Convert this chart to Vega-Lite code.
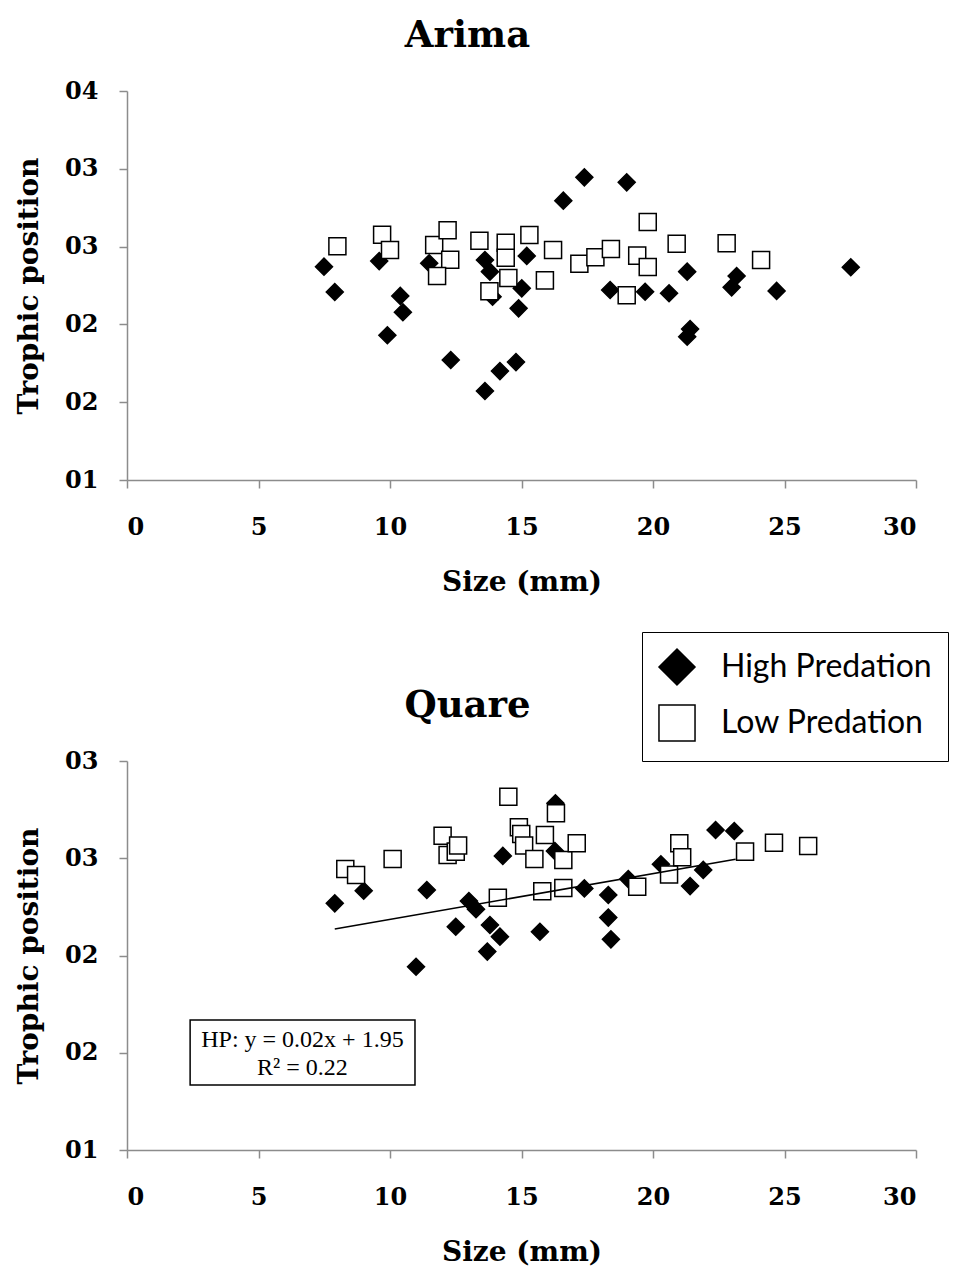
{
  "$schema": "https://vega.github.io/schema/vega-lite/v6.json",
  "background": "white",
  "padding": {"left": 15, "top": 17, "right": 0, "bottom": 10},
  "autosize": {"type": "pad"},
  "bounds": "flush",
  "spacing": 281,
  "config": {
    "view": {"stroke": null},
    "font": "DejaVu Serif",
    "axis": {
      "grid": false,
      "domainColor": "#8c8c8c",
      "domainWidth": 1.5,
      "tickColor": "#8c8c8c",
      "tickWidth": 1.5,
      "tickSize": 8,
      "labelFont": "DejaVu Serif",
      "labelFontWeight": "bold",
      "labelFontSize": 24,
      "labelColor": "black",
      "titleFont": "DejaVu Serif",
      "titleFontWeight": "bold",
      "titleFontSize": 28,
      "titleColor": "black"
    },
    "axisX": {"labelPadding": 27, "titlePadding": 29},
    "axisY": {"labelPadding": 21, "titlePadding": 21},
    "title": {"font": "DejaVu Serif", "fontWeight": "bold", "fontSize": 37, "color": "black", "offset": 24, "dx": -54},
    "point": {"size": 290, "filled": true, "stroke": "black", "strokeWidth": 1.5, "opacity": 1}
  },
  "datasets": {
    "arima": [
      {"size": 7.49, "tp": 2.871, "group": "High Predation"},
      {"size": 7.90, "tp": 2.708, "group": "High Predation"},
      {"size": 9.59, "tp": 2.907, "group": "High Predation"},
      {"size": 10.39, "tp": 2.683, "group": "High Predation"},
      {"size": 10.49, "tp": 2.578, "group": "High Predation"},
      {"size": 9.90, "tp": 2.430, "group": "High Predation"},
      {"size": 11.49, "tp": 2.893, "group": "High Predation"},
      {"size": 12.31, "tp": 2.271, "group": "High Predation"},
      {"size": 13.61, "tp": 2.914, "group": "High Predation"},
      {"size": 13.80, "tp": 2.839, "group": "High Predation"},
      {"size": 13.90, "tp": 2.678, "group": "High Predation"},
      {"size": 13.61, "tp": 2.072, "group": "High Predation"},
      {"size": 14.18, "tp": 2.200, "group": "High Predation"},
      {"size": 14.79, "tp": 2.258, "group": "High Predation"},
      {"size": 15.01, "tp": 2.732, "group": "High Predation"},
      {"size": 14.89, "tp": 2.603, "group": "High Predation"},
      {"size": 15.20, "tp": 2.940, "group": "High Predation"},
      {"size": 16.59, "tp": 3.295, "group": "High Predation"},
      {"size": 17.39, "tp": 3.445, "group": "High Predation"},
      {"size": 19.00, "tp": 3.413, "group": "High Predation"},
      {"size": 18.37, "tp": 2.721, "group": "High Predation"},
      {"size": 19.70, "tp": 2.710, "group": "High Predation"},
      {"size": 20.61, "tp": 2.700, "group": "High Predation"},
      {"size": 21.30, "tp": 2.839, "group": "High Predation"},
      {"size": 21.41, "tp": 2.470, "group": "High Predation"},
      {"size": 21.30, "tp": 2.421, "group": "High Predation"},
      {"size": 23.18, "tp": 2.811, "group": "High Predation"},
      {"size": 22.99, "tp": 2.738, "group": "High Predation"},
      {"size": 24.70, "tp": 2.715, "group": "High Predation"},
      {"size": 27.52, "tp": 2.867, "group": "High Predation"},
      {"size": 8.00, "tp": 3.002, "group": "Low Predation"},
      {"size": 9.70, "tp": 3.076, "group": "Low Predation"},
      {"size": 10.00, "tp": 2.978, "group": "Low Predation"},
      {"size": 11.68, "tp": 3.010, "group": "Low Predation"},
      {"size": 12.19, "tp": 3.105, "group": "Low Predation"},
      {"size": 12.29, "tp": 2.916, "group": "Low Predation"},
      {"size": 11.79, "tp": 2.811, "group": "Low Predation"},
      {"size": 13.40, "tp": 3.038, "group": "Low Predation"},
      {"size": 14.40, "tp": 3.025, "group": "Low Predation"},
      {"size": 14.40, "tp": 2.929, "group": "Low Predation"},
      {"size": 15.30, "tp": 3.075, "group": "Low Predation"},
      {"size": 14.50, "tp": 2.798, "group": "Low Predation"},
      {"size": 13.78, "tp": 2.713, "group": "Low Predation"},
      {"size": 16.20, "tp": 2.978, "group": "Low Predation"},
      {"size": 15.89, "tp": 2.783, "group": "Low Predation"},
      {"size": 17.20, "tp": 2.890, "group": "Low Predation"},
      {"size": 17.81, "tp": 2.931, "group": "Low Predation"},
      {"size": 18.40, "tp": 2.985, "group": "Low Predation"},
      {"size": 19.40, "tp": 2.942, "group": "Low Predation"},
      {"size": 19.80, "tp": 2.869, "group": "Low Predation"},
      {"size": 19.80, "tp": 3.158, "group": "Low Predation"},
      {"size": 19.00, "tp": 2.687, "group": "Low Predation"},
      {"size": 20.90, "tp": 3.019, "group": "Low Predation"},
      {"size": 22.80, "tp": 3.021, "group": "Low Predation"},
      {"size": 24.11, "tp": 2.914, "group": "Low Predation"}
    ],
    "quare": [
      {"size": 7.90, "tp": 2.768, "group": "High Predation"},
      {"size": 9.00, "tp": 2.833, "group": "High Predation"},
      {"size": 11.40, "tp": 2.837, "group": "High Predation"},
      {"size": 10.99, "tp": 2.442, "group": "High Predation"},
      {"size": 13.00, "tp": 2.780, "group": "High Predation"},
      {"size": 13.27, "tp": 2.738, "group": "High Predation"},
      {"size": 12.50, "tp": 2.648, "group": "High Predation"},
      {"size": 13.80, "tp": 2.657, "group": "High Predation"},
      {"size": 14.18, "tp": 2.597, "group": "High Predation"},
      {"size": 13.70, "tp": 2.520, "group": "High Predation"},
      {"size": 14.29, "tp": 3.012, "group": "High Predation"},
      {"size": 15.70, "tp": 2.622, "group": "High Predation"},
      {"size": 16.27, "tp": 3.037, "group": "High Predation"},
      {"size": 16.29, "tp": 3.283, "group": "High Predation"},
      {"size": 17.39, "tp": 2.845, "group": "High Predation"},
      {"size": 18.30, "tp": 2.811, "group": "High Predation"},
      {"size": 18.30, "tp": 2.695, "group": "High Predation"},
      {"size": 18.40, "tp": 2.583, "group": "High Predation"},
      {"size": 19.06, "tp": 2.893, "group": "High Predation"},
      {"size": 20.30, "tp": 2.969, "group": "High Predation"},
      {"size": 21.41, "tp": 2.857, "group": "High Predation"},
      {"size": 21.91, "tp": 2.940, "group": "High Predation"},
      {"size": 22.38, "tp": 3.145, "group": "High Predation"},
      {"size": 23.09, "tp": 3.140, "group": "High Predation"},
      {"size": 8.30, "tp": 2.945, "group": "Low Predation"},
      {"size": 8.71, "tp": 2.914, "group": "Low Predation"},
      {"size": 10.10, "tp": 2.996, "group": "Low Predation"},
      {"size": 12.00, "tp": 3.116, "group": "Low Predation"},
      {"size": 12.19, "tp": 3.017, "group": "Low Predation"},
      {"size": 12.50, "tp": 3.034, "group": "Low Predation"},
      {"size": 12.59, "tp": 3.065, "group": "Low Predation"},
      {"size": 14.50, "tp": 3.316, "group": "Low Predation"},
      {"size": 14.90, "tp": 3.159, "group": "Low Predation"},
      {"size": 14.99, "tp": 3.125, "group": "Low Predation"},
      {"size": 15.10, "tp": 3.065, "group": "Low Predation"},
      {"size": 15.49, "tp": 2.996, "group": "Low Predation"},
      {"size": 15.89, "tp": 3.120, "group": "Low Predation"},
      {"size": 16.31, "tp": 3.231, "group": "Low Predation"},
      {"size": 16.59, "tp": 2.991, "group": "Low Predation"},
      {"size": 17.10, "tp": 3.077, "group": "Low Predation"},
      {"size": 14.10, "tp": 2.797, "group": "Low Predation"},
      {"size": 15.79, "tp": 2.830, "group": "Low Predation"},
      {"size": 16.59, "tp": 2.847, "group": "Low Predation"},
      {"size": 19.40, "tp": 2.854, "group": "Low Predation"},
      {"size": 20.61, "tp": 2.917, "group": "Low Predation"},
      {"size": 21.00, "tp": 3.077, "group": "Low Predation"},
      {"size": 21.11, "tp": 3.005, "group": "Low Predation"},
      {"size": 23.50, "tp": 3.034, "group": "Low Predation"},
      {"size": 24.60, "tp": 3.080, "group": "Low Predation"},
      {"size": 25.90, "tp": 3.063, "group": "Low Predation"}
    ],
    "fit": [
      {"size": 7.90, "tp": 2.636},
      {"size": 23.14, "tp": 2.995}
    ],
    "note": [
      {"x1": 2.4, "x2": 10.95, "y1": 1.834, "y2": 2.168, "xm": 6.67, "ym": 2.066, "label": "HP: y = 0.02x + 1.95\nR² = 0.22"}
    ]
  },
  "resolve": {
    "scale": {"x": "independent", "y": "independent", "shape": "independent", "fill": "independent", "stroke": "independent"},
    "legend": {"shape": "independent", "fill": "independent", "stroke": "independent"}
  },
  "vconcat": [
    {
      "title": {"text": "Arima"},
      "width": 789,
      "height": 389,
      "data": {"name": "arima"},
      "mark": {"type": "point"},
      "encoding": {
        "x": {"field": "size", "type": "quantitative", "scale": {"domain": [0, 30], "nice": false, "zero": false},
              "axis": {"values": [0, 5, 10, 15, 20, 25, 30], "title": "Size (mm)"}},
        "y": {"field": "tp", "type": "quantitative", "scale": {"domain": [1.5, 4], "nice": false, "zero": false},
              "axis": {"values": [1.5, 2, 2.5, 3, 3.5, 4], "labelExpr": "format(floor(datum.value), '02d')", "title": "Trophic position"}},
        "shape": {"field": "group", "type": "nominal",
                  "scale": {"domain": ["High Predation", "Low Predation"], "range": ["diamond", "square"]},
                  "legend": {"orient": "none", "legendX": 515, "legendY": 541, "title": null, "strokeColor": "black", "padding": 16,
                             "symbolSize": 1300, "symbolStrokeWidth": 1.5, "labelLimit": 400,
                             "labelFont": "Lato", "labelFontSize": 32, "labelColor": "black", "labelOffset": 25, "rowPadding": 12}},
        "fill": {"field": "group", "type": "nominal",
                 "scale": {"domain": ["High Predation", "Low Predation"], "range": ["black", "white"]},
                 "legend": {"orient": "none", "legendX": 515, "legendY": 541, "title": null, "strokeColor": "black", "padding": 16,
                            "symbolSize": 1300, "symbolStrokeWidth": 1.5, "labelLimit": 400,
                            "labelFont": "Lato", "labelFontSize": 32, "labelColor": "black", "labelOffset": 25, "rowPadding": 12}},
        "stroke": {"field": "group", "type": "nominal",
                   "scale": {"domain": ["High Predation", "Low Predation"], "range": ["black", "black"]},
                   "legend": {"orient": "none", "legendX": 515, "legendY": 541, "title": null, "strokeColor": "black", "padding": 16,
                              "symbolSize": 1300, "symbolStrokeWidth": 1.5, "labelLimit": 400,
                              "labelFont": "Lato", "labelFontSize": 32, "labelColor": "black", "labelOffset": 25, "rowPadding": 12}}
      }
    },
    {
      "title": {"text": "Quare"},
      "width": 789,
      "height": 389,
      "layer": [
        {
          "data": {"name": "quare"},
          "mark": {"type": "point"},
          "encoding": {
            "x": {"field": "size", "type": "quantitative", "scale": {"domain": [0, 30], "nice": false, "zero": false},
                  "axis": {"values": [0, 5, 10, 15, 20, 25, 30], "title": "Size (mm)"}},
            "y": {"field": "tp", "type": "quantitative", "scale": {"domain": [1.5, 3.5], "nice": false, "zero": false},
                  "axis": {"values": [1.5, 2, 2.5, 3, 3.5], "labelExpr": "format(floor(datum.value), '02d')", "title": "Trophic position"}},
            "shape": {"field": "group", "type": "nominal", "legend": null,
                      "scale": {"domain": ["High Predation", "Low Predation"], "range": ["diamond", "square"]}},
            "fill": {"field": "group", "type": "nominal", "legend": null,
                     "scale": {"domain": ["High Predation", "Low Predation"], "range": ["black", "white"]}}
          }
        },
        {
          "data": {"name": "fit"},
          "mark": {"type": "line", "color": "black", "strokeWidth": 1.5},
          "encoding": {
            "x": {"field": "size", "type": "quantitative"},
            "y": {"field": "tp", "type": "quantitative"}
          }
        },
        {
          "data": {"name": "note"},
          "mark": {"type": "rect", "fill": "white", "stroke": "black", "strokeWidth": 1.5},
          "encoding": {
            "x": {"field": "x1", "type": "quantitative"},
            "x2": {"field": "x2"},
            "y": {"field": "y1", "type": "quantitative"},
            "y2": {"field": "y2"}
          }
        },
        {
          "data": {"name": "note"},
          "mark": {"type": "text", "font": "Liberation Serif", "fontSize": 24, "lineHeight": 28, "lineBreak": "\n", "align": "center", "baseline": "middle", "color": "black"},
          "encoding": {
            "x": {"field": "xm", "type": "quantitative"},
            "y": {"field": "ym", "type": "quantitative"},
            "text": {"field": "label"}
          }
        }
      ]
    }
  ]
}
